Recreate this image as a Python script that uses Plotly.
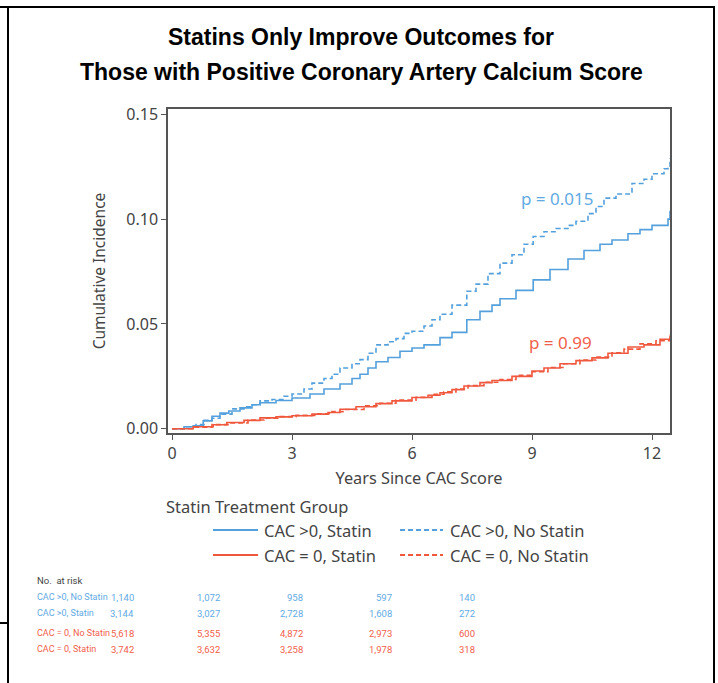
import plotly.graph_objects as go

# ---------------- data ----------------
t_pos_nostatin = [0, 0.3, 0.6, 0.8, 1.0, 1.2, 1.5, 1.8, 2.0, 2.2, 2.5, 2.8, 3.0, 3.3, 3.5, 3.8, 4.0, 4.2, 4.5, 4.7,
                  4.9, 5.1, 5.4, 5.6, 5.8, 6.0, 6.3, 6.5, 6.7, 7.0, 7.37, 7.6, 7.9, 8.2, 8.5, 8.8, 9.03, 9.3, 9.6,
                  9.9, 10.1, 10.4, 10.6, 10.8, 11.1, 11.5, 11.8, 12.0, 12.3, 12.4, 12.45]
ci_pos_nostatin = [0, 0.001, 0.002, 0.004, 0.005, 0.007, 0.0095, 0.0105, 0.0115, 0.0133, 0.014, 0.0155, 0.0166,
                   0.019, 0.0218, 0.024, 0.026, 0.029, 0.031, 0.033, 0.036, 0.040, 0.0415, 0.043, 0.0455, 0.0465,
                   0.049, 0.052, 0.0546, 0.059, 0.0656, 0.069, 0.074, 0.079, 0.083, 0.088, 0.0917, 0.094, 0.0955,
                   0.097, 0.099, 0.1026, 0.106, 0.110, 0.112, 0.117, 0.119, 0.1216, 0.124, 0.125, 0.129]

t_pos_statin = [0, 0.3, 0.53, 0.78, 1.0, 1.2, 1.42, 1.7, 2.0, 2.2, 2.6, 3.0, 3.45, 3.8, 4.2, 4.5, 4.7, 4.9, 5.1, 5.4,
                5.7, 6.0, 6.3, 6.7, 7.0, 7.37, 7.7, 8.0, 8.2, 8.6, 9.03, 9.45, 9.9, 10.3, 10.7, 11.0, 11.4, 11.7,
                12.0, 12.4, 12.45]
ci_pos_statin = [0, 0.001, 0.0014, 0.0038, 0.006, 0.0075, 0.0085, 0.010, 0.0115, 0.0124, 0.0135, 0.0147, 0.0166,
                 0.019, 0.0214, 0.024, 0.026, 0.029, 0.032, 0.034, 0.037, 0.0385, 0.040, 0.0435, 0.046, 0.052,
                 0.056, 0.059, 0.062, 0.066, 0.071, 0.076, 0.081, 0.085, 0.088, 0.090, 0.093, 0.095, 0.097, 0.100,
                 0.104]

t_zero_statin = [0, 0.53, 1.03, 1.37, 1.8, 2.2, 2.6, 3.0, 3.5, 3.9, 4.2, 4.6, 5.1, 5.5, 6.0, 6.4, 6.7, 7.0, 7.3, 7.7,
                 8.0, 8.5, 9.0, 9.3, 9.7, 10.1, 10.5, 10.9, 11.4, 11.8, 12.2, 12.45]
ci_zero_statin = [0, 0.001, 0.0019, 0.003, 0.004, 0.0052, 0.0057, 0.0062, 0.007, 0.0078, 0.0093, 0.0105, 0.012,
                  0.0133, 0.0149, 0.016, 0.0172, 0.0187, 0.0204, 0.022, 0.023, 0.025, 0.0276, 0.029, 0.031, 0.0325,
                  0.0338, 0.036, 0.039, 0.040, 0.0427, 0.0445]

t_zero_nostatin = [0, 0.5, 1.0, 1.4, 1.9, 2.3, 2.7, 3.1, 3.6, 4.0, 4.3, 4.8, 5.2, 5.6, 6.1, 6.5, 6.8, 7.1, 7.4, 7.8,
                   8.2, 8.6, 9.0, 9.4, 9.8, 10.2, 10.6, 11.0, 11.3, 11.7, 12.1, 12.45]
ci_zero_nostatin = [0, 0.0008, 0.002, 0.0028, 0.0042, 0.005, 0.0058, 0.0064, 0.0072, 0.0082, 0.0092, 0.011, 0.0122,
                    0.0137, 0.015, 0.0165, 0.0176, 0.019, 0.0206, 0.0222, 0.0235, 0.0255, 0.0272, 0.0292, 0.031,
                    0.0328, 0.0342, 0.0362, 0.038, 0.0405, 0.042, 0.045]

x_ticks = [0, 3, 6, 9, 12]
y_ticks = [0.00, 0.05, 0.10, 0.15]
y_tick_labels = ["0.00", "0.05", "0.10", "0.15"]

risk_groups = ["CAC >0, No Statin", "CAC >0, Statin", "CAC = 0, No Statin", "CAC = 0, Statin"]
risk_values = [
    ["1,140", "1,072", "958", "597", "140"],
    ["3,144", "3,027", "2,728", "1,608", "272"],
    ["5,618", "5,355", "4,872", "2,973", "600"],
    ["3,742", "3,632", "3,258", "1,978", "318"],
]

p_labels = ["p = 0.015", "p = 0.99"]

# ---------------- style ----------------
BLUE = "rgb(84,160,220)"
RED = "rgb(240,88,62)"
BLUE_T = "rgb(98,170,228)"
RED_T = "rgb(242,96,76)"
GREY = "#444444"
FONT = "Noto Sans"
TABLE_FONT = "Roboto"
TITLE_FONT = "Liberation Sans Narrow, Liberation Sans, Arial"

W, H = 718, 683
L, R, T, B = 168, 48, 109, 250
PW, PH = W - L - R, H - T - B


def px(x):
    return (x - L) / PW


def py(y):
    return (H - B - y) / PH


def label(text, x, y, size, color, xanchor="left", family=FONT):
    return dict(text=text, x=px(x), y=py(y), xref="paper", yref="paper", showarrow=False,
                xanchor=xanchor, yanchor="middle", font=dict(family=family, size=size, color=color))


fig = go.Figure()
fig.add_trace(go.Scatter(x=t_pos_statin, y=ci_pos_statin, mode="lines", line=dict(color=BLUE, width=1.6, shape="hv"),
                         name="CAC >0, Statin", showlegend=False))
fig.add_trace(go.Scatter(x=t_pos_nostatin, y=ci_pos_nostatin, mode="lines",
                         line=dict(color=BLUE, width=1.6, shape="hv", dash="5px,3px"),
                         name="CAC >0, No Statin", showlegend=False))
fig.add_trace(go.Scatter(x=t_zero_statin, y=ci_zero_statin, mode="lines", line=dict(color=RED, width=1.6, shape="hv"),
                         name="CAC = 0, Statin", showlegend=False))
fig.add_trace(go.Scatter(x=t_zero_nostatin, y=ci_zero_nostatin, mode="lines",
                         line=dict(color=RED, width=1.6, shape="hv", dash="5px,3px"),
                         name="CAC = 0, No Statin", showlegend=False))

annotations = []
shapes = []

# title
annotations.append(label("<b>Statins Only Improve Outcomes for</b>", 361, 37, 23, "black", "center", TITLE_FONT))
annotations.append(label("<b>Those with Positive Coronary Artery Calcium Score</b>", 361, 72, 23, "black", "center",
                         TITLE_FONT))

# p-values
annotations.append(label(p_labels[0], 557, 198, 17, BLUE_T, "center"))
annotations.append(label(p_labels[1], 560, 342, 17, RED_T, "center"))

# legend (manual)
annotations.append(label("Statin Treatment Group", 164, 507, 16.5, GREY))
leg = [
    ("CAC >0, Statin", BLUE, "solid", 213, 258, 262, 530),
    ("CAC >0, No Statin", BLUE, "5px,3px", 400, 443, 448, 530),
    ("CAC = 0, Statin", RED, "solid", 213, 258, 262, 555),
    ("CAC = 0, No Statin", RED, "5px,3px", 400, 443, 448, 555),
]
for name, col, dash, x0, x1, xt, yy in leg:
    shapes.append(dict(type="line", xref="paper", yref="paper", x0=px(x0), x1=px(x1), y0=py(yy), y1=py(yy),
                       line=dict(color=col, width=1.8, dash=dash)))
    annotations.append(label(name, xt, yy, 16.5, GREY))

# risk table
annotations.append(label("No.  at risk", 35, 580, 9.5, GREY, family=TABLE_FONT))
row_y = [597, 613, 633, 649]
col_x = [136, 222, 305, 394, 477]
for i, g in enumerate(risk_groups):
    col = BLUE_T if i < 2 else RED_T
    annotations.append(label(g, 35, row_y[i], 9, col, family=TABLE_FONT))
    for j, v in enumerate(risk_values[i]):
        annotations.append(label(v, col_x[j], row_y[i], 9.5, col, "right", TABLE_FONT))

# outer frame
frame = dict(color="black", width=2)
shapes.append(dict(type="line", xref="paper", yref="paper", x0=px(0), x1=px(715), y0=py(7), y1=py(7), line=frame))
shapes.append(dict(type="line", xref="paper", yref="paper", x0=px(8), x1=px(8), y0=py(7), y1=py(690), line=frame))
shapes.append(dict(type="line", xref="paper", yref="paper", x0=px(714), x1=px(714), y0=py(7), y1=py(690),
                   line=frame))
shapes.append(dict(type="line", xref="paper", yref="paper", x0=px(0), x1=px(8), y0=py(623), y1=py(623), line=frame))

fig.update_layout(
    width=W, height=H,
    margin=dict(l=L, r=R, t=T, b=B, pad=0),
    paper_bgcolor="white", plot_bgcolor="white",
    showlegend=False,
    annotations=annotations, shapes=shapes,
    font=dict(family=FONT, color=GREY),
)
fig.update_xaxes(range=[-0.1, 12.45], tickvals=x_ticks, ticks="outside", ticklen=5, tickcolor="#555",
                 showline=True, linecolor="#555", linewidth=1.5, mirror=True, showgrid=False, zeroline=False,
                 tickfont=dict(family=FONT, size=16, color=GREY),
                 title=dict(text="Years Since CAC Score", font=dict(family=FONT, size=16.3, color=GREY), standoff=10))
fig.update_yaxes(range=[-0.002, 0.1525], tickvals=y_ticks, ticktext=y_tick_labels, ticks="outside", ticklen=5,
                 tickcolor="#555", showline=True, linecolor="#555", linewidth=1.5, mirror=True, showgrid=False,
                 zeroline=False, tickfont=dict(family=FONT, size=16, color=GREY),
                 title=dict(text="Cumulative Incidence", font=dict(family=FONT, size=15.5, color=GREY), standoff=17))

fig.write_html("out.html", config={"displayModeBar": False},
               post_script="document.body.style.margin='0';")
